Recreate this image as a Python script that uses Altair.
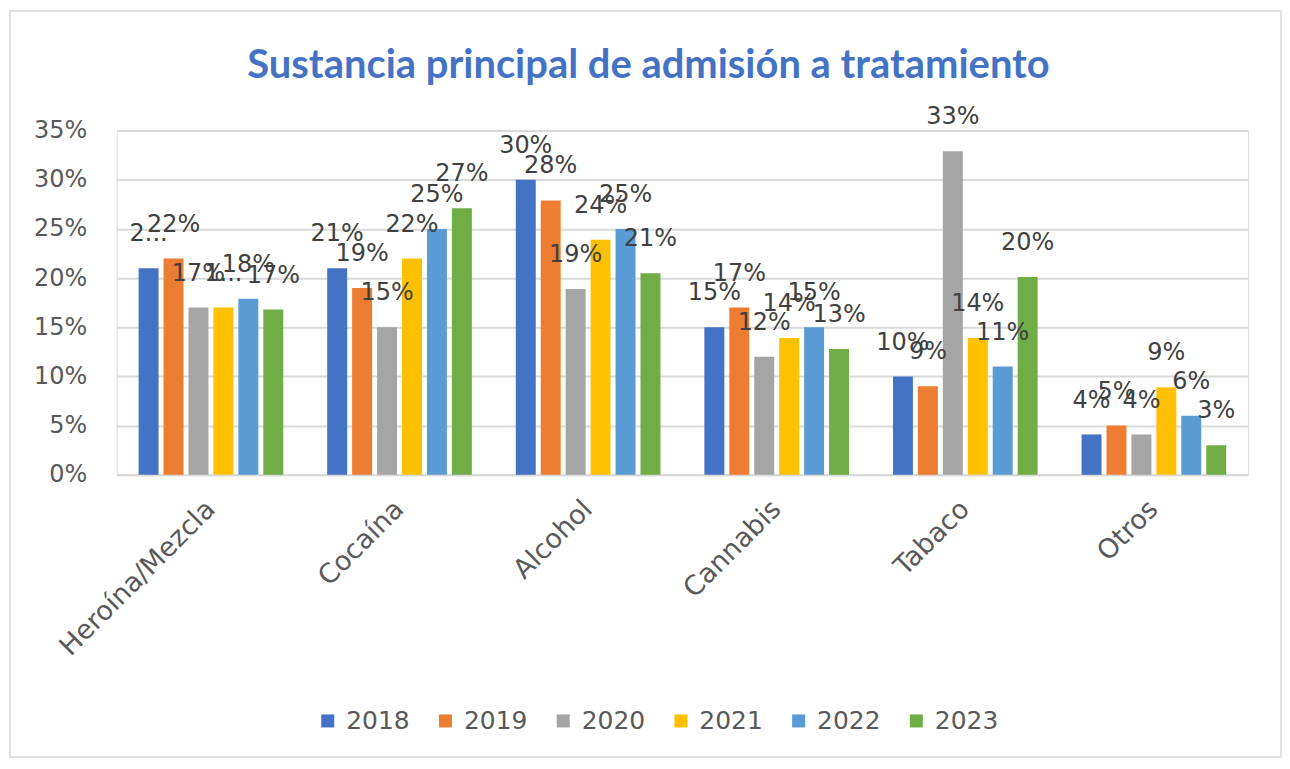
import altair as alt
import pandas as pd

categories = ["Heroína/Mezcla", "Cocaína", "Alcohol", "Cannabis", "Tabaco", "Otros"]
years = ["2018", "2019", "2020", "2021", "2022", "2023"]

v2018 = [21.0, 21.0, 30.0, 15.0, 10.0, 4.1]
v2019 = [22.0, 19.0, 27.9, 17.0, 9.0, 5.0]
v2020 = [17.0, 15.0, 18.9, 12.0, 32.9, 4.1]
v2021 = [17.0, 22.0, 23.9, 13.9, 13.9, 8.9]
v2022 = [17.9, 25.0, 25.0, 15.0, 11.0, 6.0]
v2023 = [16.8, 27.1, 20.5, 12.8, 20.1, 3.0]

l2018 = ["2...", "21%", "30%", "15%", "10%", "4%"]
l2019 = ["22%", "19%", "28%", "17%", "9%", "5%"]
l2020 = ["17%", "15%", "19%", "12%", "33%", "4%"]
l2021 = ["1...", "22%", "24%", "14%", "14%", "9%"]
l2022 = ["18%", "25%", "25%", "15%", "11%", "6%"]
l2023 = ["17%", "27%", "21%", "13%", "20%", "3%"]

colors = ["#4472C4", "#ED7D31", "#A5A5A5", "#FFC000", "#5B9BD5", "#70AD47"]
title_text = "Sustancia principal de admisión a tratamiento"

values = [v2018, v2019, v2020, v2021, v2022, v2023]
labels = [l2018, l2019, l2020, l2021, l2022, l2023]

rows = []
for y, vals, labs in zip(years, values, labels):
    for c, v, l in zip(categories, vals, labs):
        rows.append({"cat": c, "year": y, "value": v, "label": l})
df = pd.DataFrame(rows)

x_enc = alt.X("cat:N", sort=categories, title=None,
              scale=alt.Scale(paddingInner=0.233, paddingOuter=0.116),
              axis=alt.Axis(labelAngle=315, labelAlign="right", labelBaseline="middle",
                            labelPadding=30, labelFontSize=27, labelColor="#595959",
                            labelFont="DejaVu Sans", labelLimit=0, ticks=False,
                            domainColor="#d9d9d9", domainWidth=2, grid=False))
xo_enc = alt.XOffset("year:N", sort=years, scale=alt.Scale(paddingInner=0.2, paddingOuter=0))
y_enc = alt.Y("value:Q", title=None,
              scale=alt.Scale(domain=[0, 35], nice=False),
              axis=alt.Axis(values=[0, 5, 10, 15, 20, 25, 30, 35],
                            labelExpr="datum.value + '%'",
                            labelFontSize=24, labelColor="#595959", labelFont="DejaVu Sans",
                            labelPadding=30, ticks=False, domain=False,
                            gridColor="#d9d9d9", gridWidth=2))

base = alt.Chart(df)

bars = base.mark_bar().encode(
    x=x_enc, xOffset=xo_enc, y=y_enc,
    color=alt.Color("year:N", sort=years, scale=alt.Scale(domain=years, range=colors),
                    legend=alt.Legend(title=None, orient="none", direction="horizontal",
                                      legendX=199, legendY=579,
                                      symbolType="square", symbolSize=170,
                                      symbolStrokeWidth=0,
                                      labelFontSize=25, labelFont="DejaVu Sans",
                                      labelColor="#595959", labelOffset=6,
                                      columnPadding=23))
)

text = base.mark_text(fontSize=24, font="DejaVu Sans", color="#404040",
                      baseline="middle", align="center", dy=-34).encode(
    x=alt.X("cat:N", sort=categories), xOffset=alt.XOffset("year:N", sort=years),
    y="value:Q", text="label:N"
)

one = pd.DataFrame({"a": [0]})

title_mark = alt.Chart(one).mark_text(
    fontSize=40, font="Lato", fontWeight="bold", color="#4472C4",
    align="center", baseline="alphabetic"
).encode(x=alt.value(533), y=alt.value(-53), text=alt.value(title_text))

border = alt.Chart(one).mark_rect(
    fillOpacity=0, stroke="#d9d9d9", strokeWidth=1.5
).encode(x=alt.value(-107), x2=alt.value(1167), y=alt.value(-120), y2=alt.value(628))

chart = alt.layer(bars, text, title_mark, border).properties(
    width=1134, height=345,
    autosize=alt.AutoSizeParams(type="none"),
    padding={"left": 109, "top": 122, "right": 34, "bottom": 284},
).configure_view(stroke=None).configure(background="white")

chart.save("out.html", embed_options={"renderer": "svg", "actions": False})
